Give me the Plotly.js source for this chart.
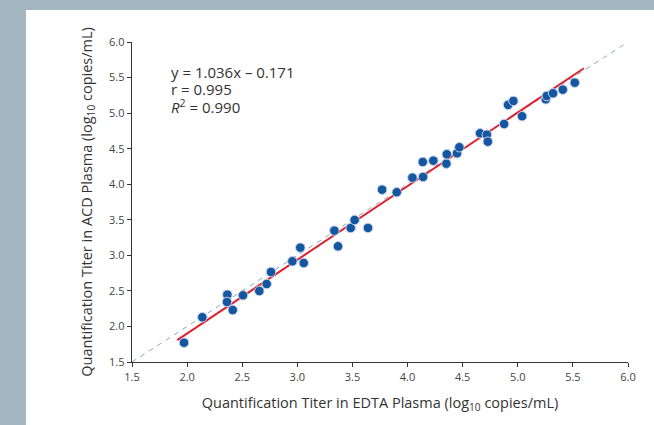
<!DOCTYPE html>
<html><head><meta charset="utf-8">
<script src="https://cdn.plot.ly/plotly-3.0.1.min.js"></script>
<style>
html,body{margin:0;padding:0;}
#wrap{position:relative;width:654px;height:425px;background:#a3b7c3;overflow:hidden;}
#plot{position:absolute;left:26px;top:10px;width:628px;height:415px;}
</style></head>
<body><div id="wrap"><div id="plot"></div></div>
<script>
const edta = [1.972,2.138,2.365,2.362,2.414,2.507,2.655,2.722,2.761,2.955,3.027,3.058,3.336,3.369,3.484,3.520,3.641,3.769,3.902,
  4.044,4.141,4.138,4.234,4.352,4.356,4.449,4.470,4.658,4.719,4.728,4.876,4.912,4.960,5.039,5.254,5.263,5.320,5.408,5.517];
const acd = [1.771,2.129,2.447,2.344,2.231,2.438,2.499,2.597,2.766,2.916,3.108,2.892,3.347,3.127,3.385,3.497,3.385,3.923,3.887,
  4.092,4.102,4.313,4.331,4.289,4.421,4.435,4.520,4.717,4.697,4.598,4.847,5.115,5.171,4.956,5.194,5.241,5.279,5.330,5.428];
const slope = 1.036, intercept = -0.171;
const fitX = [1.91, 5.6];
const fitY = fitX.map(x => slope * x + intercept);
const identity = [1.5, 6.0];
const tickVals = [1.5,2.0,2.5,3.0,3.5,4.0,4.5,5.0,5.5,6.0];
const tickText = tickVals.map(v => v.toFixed(1));
const statLines = ['y = 1.036x – 0.171', 'r = 0.995', '<i>R</i><sup>2</sup> = 0.990'];
const statY = [5.572, 5.333, 5.094];

const font = '"Open Sans", "Noto Sans", sans-serif';
const traces = [
  {x: identity, y: identity, mode:'lines', line:{color:'#8ea6bd', width:1, dash:'5px,5px'}, hoverinfo:'skip'},
  {x: fitX, y: fitY, mode:'lines', line:{color:'#e0202e', width:2}},
  {x: edta, y: acd, mode:'markers', marker:{size:9.5, color:'#14569f', line:{color:'#c8d2ea', width:1}}}
];
const axisBase = {
  range:[1.5,6.0], tickvals:tickVals, ticktext:tickText, showgrid:false, zeroline:false,
  showline:true, linecolor:'#333', linewidth:1.3, ticks:'outside', ticklen:4, tickcolor:'#333', tickwidth:1,
  tickfont:{family:font, size:11, color:'#444'}
};
const layout = {
  width:628, height:415, showlegend:false,
  paper_bgcolor:'#ffffff', plot_bgcolor:'rgba(0,0,0,0)',
  margin:{l:106, r:26, t:32, b:63},
  xaxis: Object.assign({}, axisBase, {title:{text:'Quantification Titer in EDTA Plasma (log<sub>10</sub> copies/mL)', font:{family:font, size:14.5, color:'#333'}, standoff:15}}),
  yaxis: Object.assign({}, axisBase, {title:{text:'Quantification Titer in ACD Plasma (log<sub>10</sub> copies/mL)', font:{family:font, size:14.5, color:'#333'}, standoff:13}}),
  annotations: statLines.map((t, i) => ({
    xref:'x', yref:'y', x:1.836, y:statY[i], xanchor:'left', yanchor:'middle', align:'left', showarrow:false,
    text:t, font:{family:font, size:15, color:'#333'}
  }))
};
Plotly.newPlot('plot', traces, layout, {displayModeBar:false, staticPlot:true});
</script></body></html>
